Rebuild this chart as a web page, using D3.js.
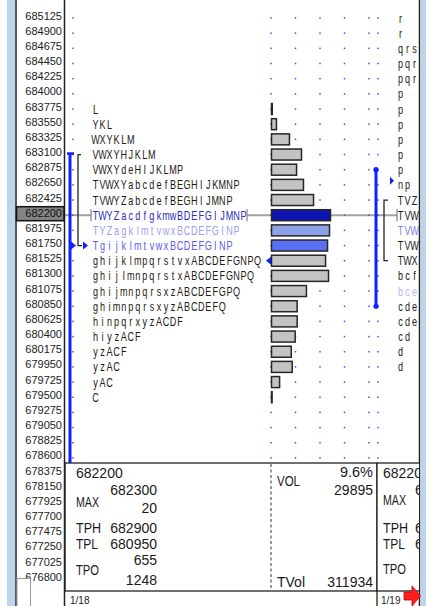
<!DOCTYPE html>
<html>
<head>
<meta charset="utf-8">
<script src="https://cdn.jsdelivr.net/npm/d3@7"></script>
<style>
body { margin: 0; background: #fff; }
text { font-family: "Liberation Sans", Arial, sans-serif; }
</style>
</head>
<body>
<svg class="plot" width="426" height="606"></svg>
<script>
// price ladder (tick labels)
var prices = [685125, 684900, 684675, 684450, 684225, 684000, 683775, 683550, 683325, 683100,
              682875, 682650, 682425, 682200, 681975, 681750, 681525, 681300, 681075, 680850,
              680625, 680400, 680175, 679950, 679725, 679500, 679275, 679050, 678825, 678600,
              678375, 678150, 677925, 677700, 677475, 677250, 677025, 676800];

// day 1/18 profile
var tpoPrices = [683775, 683550, 683325, 683100, 682875, 682650, 682425, 682200, 681975, 681750,
                 681525, 681300, 681075, 680850, 680625, 680400, 680175, 679950, 679725, 679500];
var tpoLetters = ["L", "YKL", "WXYKLM", "VWXYHJKLM", "VWXYdeHIJKLMP", "TVWXYabcdefBEGHIJKMNP",
                  "TVWYZabcdefBEGHIJMNP", "TWYZacdfgkmwBDEFGIJMNP", "TYZagklmtvwxBCDEFGINP",
                  "TgijklmtvwxBCDEFGINP", "ghijklmpqrstvxABCDEFGNPQ", "ghijlmnpqrstxABCDEFGNPQ",
                  "ghijmnpqrsxzABCDEFGPQ", "ghimnpqrsxyzABCDEFQ", "hinpqrxyzACDF", "hiyzACF",
                  "yzACF", "yzAC", "yAC", "C"];
var volumes = [400, 2500, 9100, 15200, 12700, 16200, 21300, 29895, 29400, 28400,
               27400, 28900, 17700, 13000, 13000, 12000, 10000, 10500, 4100, 300];

// day 1/19 profile (partly visible)
var nextPrices = [685125, 684900, 684675, 684450, 684225, 684000, 683775, 683550, 683325, 683100,
                  682875, 682650, 682425, 682200, 681975, 681750, 681525, 681300, 681075, 680850,
                  680625, 680400, 680175, 679950];
var nextLetters = ["r", "r", "qrs", "pqr", "pqr", "p", "p", "p", "p", "p", "p", "np", "TVZ", "TVW",
                   "TVW", "TVW", "TWX", "bcf", "bce", "cde", "cde", "cd", "d", "d"];

var poc = 682200, vaHigh = 683100, vaLow = 681750;
var nextRangeHigh = 682875, nextRangeLow = 680850, nextVaHigh = 682425, nextVaLow = 681525;

var infoLeft = [["682200"], ["MAX", "682300", "20"], ["TPH", "682900"], ["TPL", "680950"], ["TPO", "655", "1248"]];
var volPct = "9.6%", pocVol = "29895", totalVol = "311934";
var dayLabels = ["1/18", "1/19"];

var svg = d3.select(".plot");

var y = d3.scaleLinear().domain([685125, 676800]).range([18, 18 + 37 * 15.17]);
var w = d3.scaleLinear().domain([0, 29895]).range([0, 59]);

svg.append("defs").append("clipPath").attr("id", "area")
    .append("rect").attr("x", 65).attr("y", 0).attr("width", 354).attr("height", 606);

// side frame
svg.append("rect").attr("x", 7).attr("y", 0).attr("width", 8).attr("height", 606).attr("fill", "#bcd3ec");
svg.append("rect").attr("x", 421).attr("y", 0).attr("width", 5).attr("height", 606).attr("fill", "#bcd3ec");
svg.append("line").attr("x1", 16).attr("x2", 16).attr("y1", 0).attr("y2", 606).attr("stroke", "#222").attr("stroke-width", 1.5);
svg.append("line").attr("x1", 419.5).attr("x2", 419.5).attr("y1", 0).attr("y2", 606).attr("stroke", "#222").attr("stroke-width", 1.5);

// price labels
svg.selectAll(".plabel")
    .data(prices)
    .enter()
    .append("text")
    .attr("class", "plabel")
    .attr("x", 62)
    .attr("y", function(d) { return y(d) + 1.5; })
    .attr("text-anchor", "end")
    .style("font-size", "11px")
    .style("fill", "#222")
    .text(function(d) { return d; });

var g = svg.append("g").attr("clip-path", "url(#area)");

// poc line (hidden behind the letters)
[[64, 91], [247, 397]].forEach(function(s) {
  g.append("line")
      .attr("x1", s[0]).attr("x2", s[1])
      .attr("y1", y(poc)).attr("y2", y(poc))
      .attr("stroke", "#a3a3a3").attr("stroke-width", 2);
});

// grid dots
var dotX = [73, 271, 295.5, 320, 344.5, 369, 378];
prices.forEach(function(p) {
  dotX.forEach(function(x) {
    g.append("rect").attr("x", x - 0.75).attr("y", y(p) - 0.75)
        .attr("width", 1.5).attr("height", 1.5).attr("fill", "#4b4bf5");
  });
});

// blue range line + value area bracket, day 1
g.append("line").attr("x1", 70).attr("x2", 70).attr("y1", y(vaHigh) - 1).attr("y2", 463)
    .attr("stroke", "#1020ff").attr("stroke-width", 3);
g.append("line").attr("x1", 67).attr("x2", 74).attr("y1", y(vaHigh) - 1).attr("y2", y(vaHigh) - 1)
    .attr("stroke", "#1020ff").attr("stroke-width", 2.5);
g.append("path").attr("d", "M71," + (y(vaLow) - 4) + "L76," + y(vaLow) + "L71," + (y(vaLow) + 4) + "Z").attr("fill", "#1020ff");
g.append("path")
    .attr("d", "M81," + y(vaHigh) + "H78V" + y(vaLow) + "H82")
    .attr("fill", "none").attr("stroke", "#222").attr("stroke-width", 1.3);
g.append("path").attr("d", "M83," + (y(vaLow) - 4) + "L88," + y(vaLow) + "L83," + (y(vaLow) + 4) + "Z").attr("fill", "#1020ff");

// tpo letters
function letterColor(p, day) {
  if (day === 0) {
    if (p === 682200) return "#2b2bc4";
    if (p === 681975) return "#9ba0f0";
    if (p === 681750) return "#5a5cf0";
  } else {
    if (p === 681975) return "#7e82e6";
    if (p === 681075) return "#b3b8f2";
  }
  return "#231a12";
}

function drawLetters(ps, strs, x0, day) {
  ps.forEach(function(p, i) {
    strs[i].split("").forEach(function(c, j) {
      g.append("text")
          .attr("transform", "translate(" + (x0 + j * 7.05) + "," + (y(p) + 4.5) + ") scale(0.7,1)")
          .attr("text-anchor", "middle")
          .style("font-size", "13px")
          .style("fill", letterColor(p, day))
          .text(c);
    });
  });
}
drawLetters(tpoPrices, tpoLetters, 95.5, 0);
drawLetters(nextPrices, nextLetters, 400.5, 1);

// poc brackets
[91, 247, 397].forEach(function(x) {
  g.append("line").attr("x1", x).attr("x2", x).attr("y1", y(poc) - 6).attr("y2", y(poc) + 6)
      .attr("stroke", "#8a8a8a").attr("stroke-width", 1.3);
});

// volume bars
g.selectAll(".bar")
    .data(volumes)
    .enter()
    .append("rect")
    .attr("class", "bar")
    .attr("x", 271.5)
    .attr("y", function(d, i) { return y(tpoPrices[i]) - 5.5; })
    .attr("width", function(d) { return w(d); })
    .attr("height", 11)
    .attr("fill", function(d, i) {
      var p = tpoPrices[i];
      if (p === 682200) return "#0e14b0";
      if (p === 681975) return "#8ea2ea";
      if (p === 681750) return "#5a70f2";
      return "#c3c3c3";
    })
    .attr("stroke", "#262626")
    .attr("stroke-width", 1.5);

g.append("path").attr("d", "M271," + (y(681525) - 4) + "L266," + y(681525) + "L271," + (y(681525) + 4) + "Z").attr("fill", "#1020ff");

// day 2 range line + value area
g.append("line").attr("x1", 376).attr("x2", 376).attr("y1", y(nextRangeHigh)).attr("y2", y(nextRangeLow))
    .attr("stroke", "#1020ff").attr("stroke-width", 3);
[nextRangeHigh, nextRangeLow].forEach(function(p) {
  g.append("circle").attr("cx", 376).attr("cy", y(p)).attr("r", 2.6).attr("fill", "#1020ff");
});
g.append("path")
    .attr("d", "M388," + y(nextVaHigh) + "H384V" + y(nextVaLow) + "H388")
    .attr("fill", "none").attr("stroke", "#222").attr("stroke-width", 1.3);
g.append("path").attr("d", "M390," + (y(682650) - 8) + "L394," + (y(682650) - 4) + "L390," + y(682650) + "Z").attr("fill", "#1020ff");

// info boxes
g.append("rect").attr("x", 65).attr("y", 463).attr("width", 312).attr("height", 128)
    .attr("fill", "#fff").attr("stroke", "#222").attr("stroke-width", 1.3);
g.append("rect").attr("x", 377).attr("y", 463).attr("width", 60).attr("height", 128)
    .attr("fill", "#fff").attr("stroke", "#222").attr("stroke-width", 1.3);
g.append("line").attr("x1", 271).attr("x2", 271).attr("y1", 464).attr("y2", 590)
    .attr("stroke", "#555").attr("stroke-width", 1.2).style("stroke-dasharray", "3,2.5");
g.append("line").attr("x1", 377).attr("x2", 377).attr("y1", 591).attr("y2", 606)
    .attr("stroke", "#222").attr("stroke-width", 1.3);

function txt(x, yy, s, anchor, len) {
  var t = g.append("text").attr("x", x).attr("y", yy)
      .attr("text-anchor", anchor || "start")
      .style("font-size", "14px").style("fill", "#1a1a1a")
      .text(s);
  if (len) t.attr("textLength", len).attr("lengthAdjust", "spacingAndGlyphs");
  return t;
}

// day 1 stats
txt(76, 478, infoLeft[0][0]);
txt(76, 507, infoLeft[1][0], "start", 23);
txt(157, 495, infoLeft[1][1], "end");
txt(157, 513, infoLeft[1][2], "end");
txt(76, 533, infoLeft[2][0], "start", 25);
txt(157, 533, infoLeft[2][1], "end");
txt(76, 549, infoLeft[3][0], "start", 22);
txt(157, 549, infoLeft[3][1], "end");
txt(76, 575, infoLeft[4][0], "start", 23);
txt(157, 565, infoLeft[4][1], "end");
txt(157, 585, infoLeft[4][2], "end");
txt(277, 486, "VOL", "start", 23);
txt(373, 477, volPct, "end", 33);
txt(373, 495, pocVol, "end");
txt(277, 587, "TVol", "start", 28);
txt(373, 587, totalVol, "end");

// day 2 stats (clipped by the window edge)
txt(383, 478, "682200");
txt(383, 505, "MAX", "start", 23);
txt(415, 495, "6");
txt(383, 533, "TPH", "start", 25);
txt(415, 533, "6");
txt(383, 549, "TPL", "start", 22);
txt(415, 549, "6");
txt(383, 574, "TPO", "start", 23);

// day labels
[70, 381].forEach(function(x, i) {
  g.append("text").attr("x", x).attr("y", 604).style("font-size", "10px").style("fill", "#222").text(dayLabels[i]);
});

// axis line
svg.append("line").attr("x1", 64.5).attr("x2", 64.5).attr("y1", 0).attr("y2", 606).attr("stroke", "#222").attr("stroke-width", 1.5);

// highlighted poc label
svg.append("rect").attr("x", 16.5).attr("y", y(poc) - 8.5).attr("width", 47.5).attr("height", 14)
    .attr("fill", "#848484").attr("stroke", "#111").attr("stroke-width", 1.5);
svg.append("text").attr("x", 62).attr("y", y(poc) + 1.5).attr("text-anchor", "end")
    .style("font-size", "11px").style("fill", "#111").text(poc);

// small box bottom-left
svg.append("rect").attr("x", 17).attr("y", 578.5).attr("width", 13.5).attr("height", 30)
    .attr("fill", "#fff").attr("stroke", "#999").attr("stroke-width", 1);

// red scroll arrow
svg.append("path")
    .attr("d", "M404,592H412V586L420.5,596L412,606V600H404Z")
    .attr("fill", "#ff1e1e").attr("stroke", "#c40000").attr("stroke-width", 0.8);
</script>
</body>
</html>
